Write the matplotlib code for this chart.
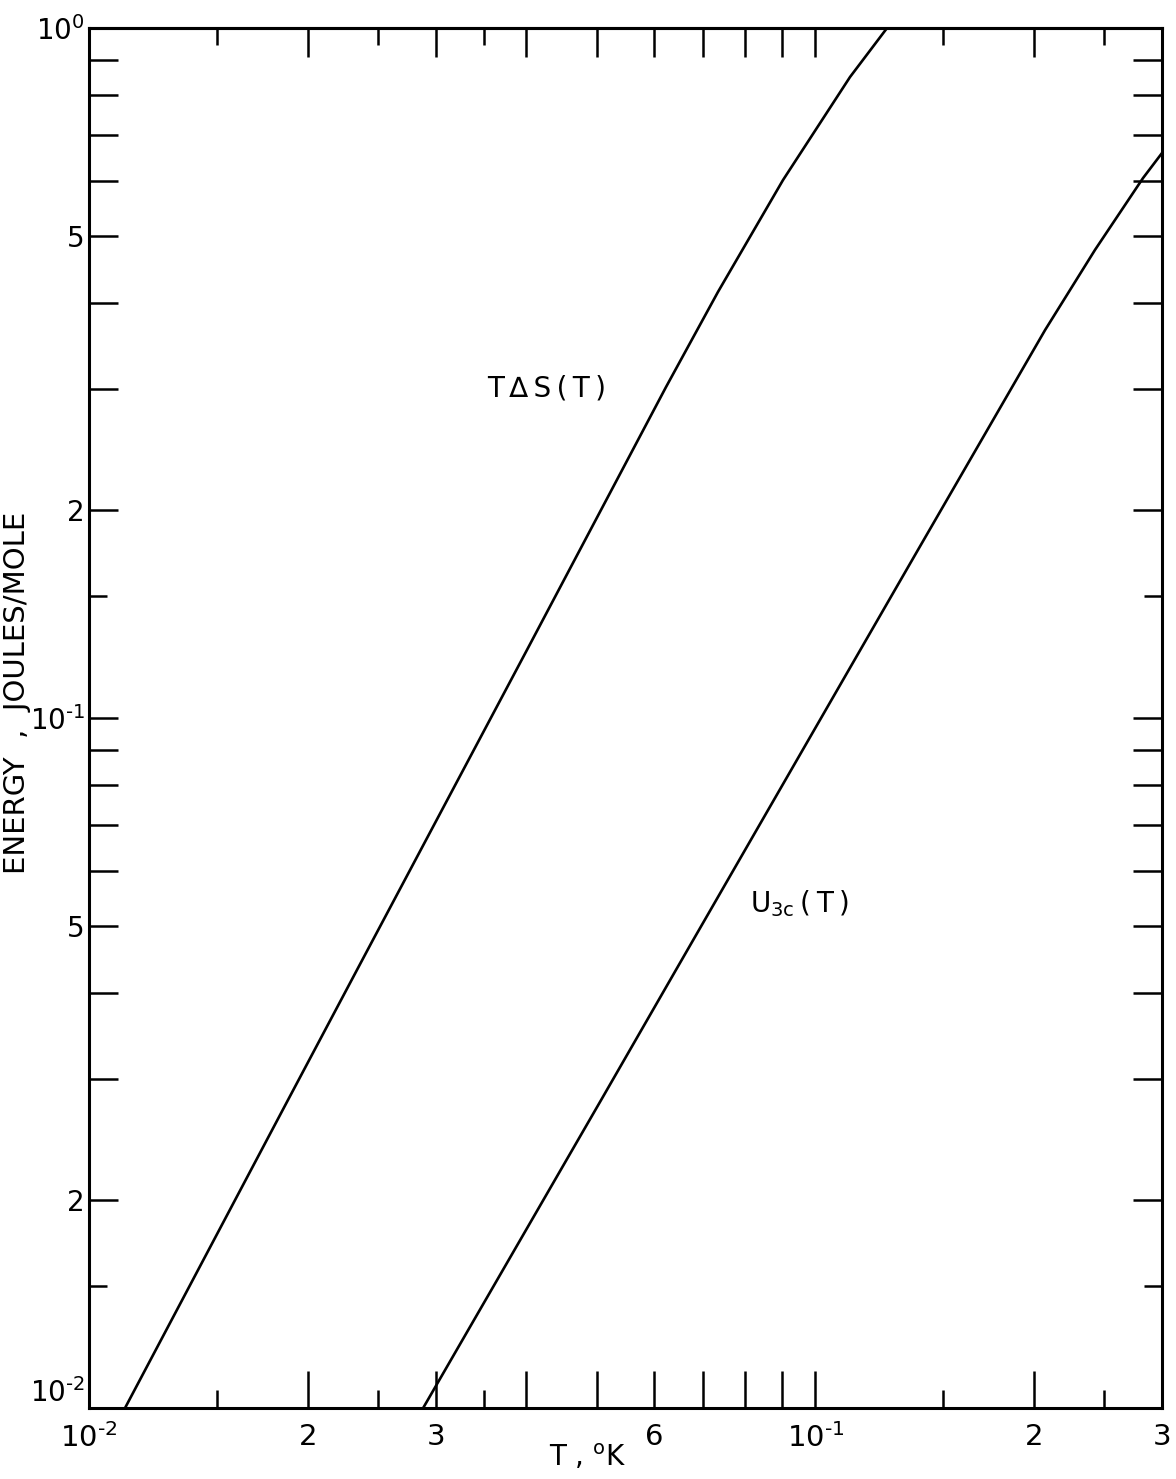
import matplotlib
matplotlib.use("Agg")
import matplotlib.pyplot as plt
from matplotlib.ticker import FixedLocator, FixedFormatter, NullFormatter

plt.rcParams['font.family'] = ['DejaVu Sans']
plt.rcParams['mathtext.default'] = 'regular'

# curve values
t_tds = [0.01121, 0.01879, 0.02346, 0.04008, 0.06228, 0.07343, 0.09024, 0.1116, 0.1255]
e_tds = [0.0100, 0.02795, 0.04342, 0.1255, 0.3018, 0.4145, 0.6021, 0.8492, 1.0]

t_u3c = [0.02884, 0.05070, 0.06450, 0.1126, 0.1384, 0.2071, 0.2426, 0.2825, 0.300]
e_u3c = [0.0100, 0.02795, 0.04342, 0.1202, 0.1752, 0.3650, 0.4769, 0.6061, 0.6589]

# ticks
x_long = [0.01, 0.02, 0.03, 0.04, 0.05, 0.06, 0.07, 0.08, 0.09, 0.1, 0.2, 0.3]
x_long_labels = ['$10^{\u20102}$', '2', '3', '', '', '6', '', '', '', '$10^{\u20101}$', '2', '3']
x_short = [0.015, 0.025, 0.035, 0.15, 0.25]

y_long = [0.01, 0.02, 0.03, 0.04, 0.05, 0.06, 0.07, 0.08, 0.09,
          0.1, 0.2, 0.3, 0.4, 0.5, 0.6, 0.7, 0.8, 0.9, 1.0]
y_long_labels = ['$10^{\u20102}$', '2', '', '', '5', '', '', '', '',
                 '$10^{\u20101}$', '2', '', '', '5', '', '', '', '', '$10^{0}$']
y_short = [0.015, 0.15]

fig = plt.figure(figsize=(11.76, 14.79), dpi=100)
ax = fig.add_axes([89/1176, 1 - 1408/1479, (1162-89)/1176, (1408-28)/1479])

ax.plot(t_tds, e_tds, color='black', lw=1.9)
ax.plot(t_u3c, e_u3c, color='black', lw=1.9)

ax.set_xscale('log')
ax.set_yscale('log')
ax.set_xlim(0.01, 0.3)
ax.set_ylim(0.01, 1.0)

ax.xaxis.set_major_locator(FixedLocator(x_long))
ax.xaxis.set_major_formatter(FixedFormatter(x_long_labels))
ax.xaxis.set_minor_locator(FixedLocator(x_short))
ax.xaxis.set_minor_formatter(NullFormatter())
ax.yaxis.set_major_locator(FixedLocator(y_long))
ax.yaxis.set_major_formatter(FixedFormatter(y_long_labels))
ax.yaxis.set_minor_locator(FixedLocator(y_short))
ax.yaxis.set_minor_formatter(NullFormatter())

ax.tick_params(axis='x', which='major', direction='in', length=27, width=1.8,
               labelsize=21, pad=11, top=False)
ax.tick_params(axis='x', which='minor', direction='in', length=13, width=1.8, top=False)
ax.tick_params(axis='y', which='major', direction='in', length=21, width=1.8,
               labelsize=20, pad=3, right=True)
ax.tick_params(axis='y', which='minor', direction='in', length=13, width=1.8, right=True)

# lift the bottom y label off the corner
ax.yaxis.get_major_ticks()[0].label1.set_verticalalignment('bottom')

top = ax.secondary_xaxis('top')
top.xaxis.set_major_locator(FixedLocator(x_long))
top.xaxis.set_major_formatter(NullFormatter())
top.xaxis.set_minor_locator(FixedLocator(x_short))
top.xaxis.set_minor_formatter(NullFormatter())
top.tick_params(which='major', direction='in', length=21, width=1.8)
top.tick_params(which='minor', direction='in', length=12, width=1.8)
top.spines['top'].set_linewidth(2.2)

for s in ax.spines.values():
    s.set_linewidth(2.2)

ax.text(0.0427, 0.30, 'T\u2009\u2206\u2009S\u2009(\u2009T\u2009)', fontsize=20,
        ha='center', va='center')
ax.text(0.0813, 0.0539, 'U$_{3c}$\u2009(\u2009T\u2009)', fontsize=20,
        ha='left', va='center')

fig.text(588/1176, 1 - 1457/1479, 'T , $^{o}$K', fontsize=20, ha='center', va='center')
fig.text(17/1176, 1 - 693/1479, 'ENERGY  ,  JOULES/MOLE', fontsize=21,
         rotation=90, ha='center', va='center')

fig.savefig('out.png', dpi=100)
